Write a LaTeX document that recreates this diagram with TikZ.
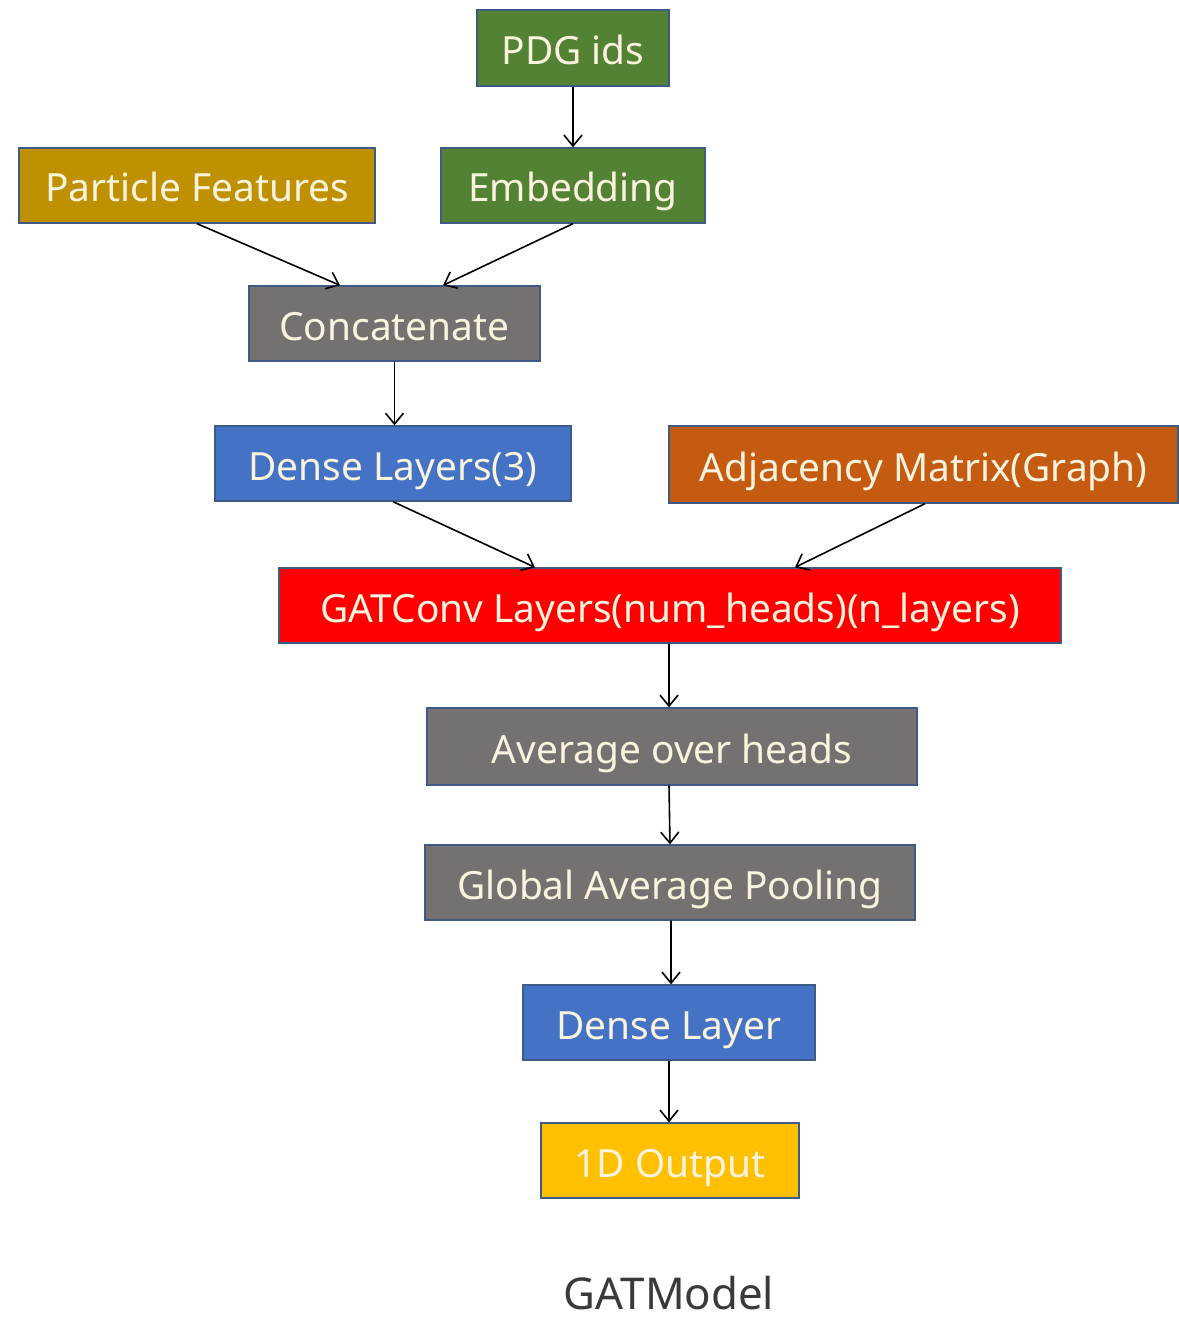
\documentclass[tikz,border=0pt]{standalone}
\usepackage{fontspec}
\setmainfont{Noto Sans}
\usetikzlibrary{arrows.meta,positioning}
\definecolor{boxgreen}{HTML}{548235}
\definecolor{boxgold}{HTML}{BF9000}
\definecolor{boxgray}{HTML}{767171}
\definecolor{boxblue}{HTML}{4472C4}
\definecolor{boxorange}{HTML}{C55A11}
\definecolor{boxred}{HTML}{FF0000}
\definecolor{boxyellow}{HTML}{FFC000}
\definecolor{edgeline}{HTML}{3E5A86}
\definecolor{labeltext}{HTML}{FAF3DE}
\definecolor{titletext}{HTML}{3A3A3A}
\tikzset{
  block/.style={draw=edgeline, line width=1.3bp, rectangle, inner sep=0pt,
    text=labeltext, font=\fontsize{39}{42}\selectfont,
    text height=40bp, text depth=7bp, anchor=center},
  flow/.style={draw=black, line width=1.6bp,
    -{Straight Barb[length=11bp, width=18bp, line width=1.6bp]}}
}
\begin{document}
\begin{tikzpicture}[x=1bp, y=-1bp]
  \useasboundingbox (0,0) rectangle (1178,1323);

  % input branch
  \node[block, fill=boxgreen, minimum width=192bp, minimum height=76bp] (pdg) at (573,48) {PDG ids};
  \node[block, fill=boxgold, minimum width=356bp, minimum height=75bp] (pf) at (197,185.5) {Particle Features};
  \node[block, fill=boxgreen, minimum width=264bp, minimum height=75bp] (emb) at (573,185.5) {Embedding};
  \node[block, fill=boxgray, minimum width=291bp, minimum height=75bp] (cat) at (394.5,323.5) {Concatenate};
  \node[block, fill=boxblue, minimum width=356bp, minimum height=75bp] (dense3) at (393,463.5) {Dense Layers(3)};
  \node[block, fill=boxorange, minimum width=509bp, minimum height=77bp] (adj) at (923.5,464.5) {Adjacency Matrix(Graph)};

  % graph attention trunk
  \node[block, fill=boxred, minimum width=782bp, minimum height=75bp] (gat) at (670,605.5) {GATConv Layers(num\_heads)(n\_layers)};
  \node[block, fill=boxgray, minimum width=490bp, minimum height=77bp] (avg) at (672,746.5) {Average over heads};
  \node[block, fill=boxgray, minimum width=490bp, minimum height=75bp] (gap) at (670,882.5) {Global Average Pooling};
  \node[block, fill=boxblue, minimum width=292bp, minimum height=75bp] (dense1) at (669,1022.5) {Dense Layer};
  \node[block, fill=boxyellow, minimum width=258bp, minimum height=75bp] (out) at (670,1160.5) {1D Output};

  \node[text=titletext, font=\fontsize{44}{47}\selectfont, inner sep=0pt, anchor=base] (title) at (669,1309) {GATModel};

  % connectors
  \draw[flow] (pdg.south) -- (emb.north);
  \draw[flow] (pf.south) -- ([xshift=-54.5bp]cat.north);
  \draw[flow] (emb.south) -- ([xshift=48.5bp]cat.north);
  \draw[flow] (cat.south) -- (cat.south |- dense3.north);
  \draw[flow] (dense3.south) -- ([xshift=-135bp]gat.north);
  \draw[flow] ([xshift=1.5bp]adj.south) -- ([xshift=125bp]gat.north);
  \draw[flow] ([xshift=-1bp]gat.south) -- ([xshift=-3bp]avg.north);
  \draw[flow] ([xshift=-3bp]avg.south) -- (gap.north);
  \draw[flow] ([xshift=1bp]gap.south) -- ([xshift=2bp]dense1.north);
  \draw[flow] (dense1.south) -- ([xshift=-1bp]out.north);
\end{tikzpicture}
\end{document}
